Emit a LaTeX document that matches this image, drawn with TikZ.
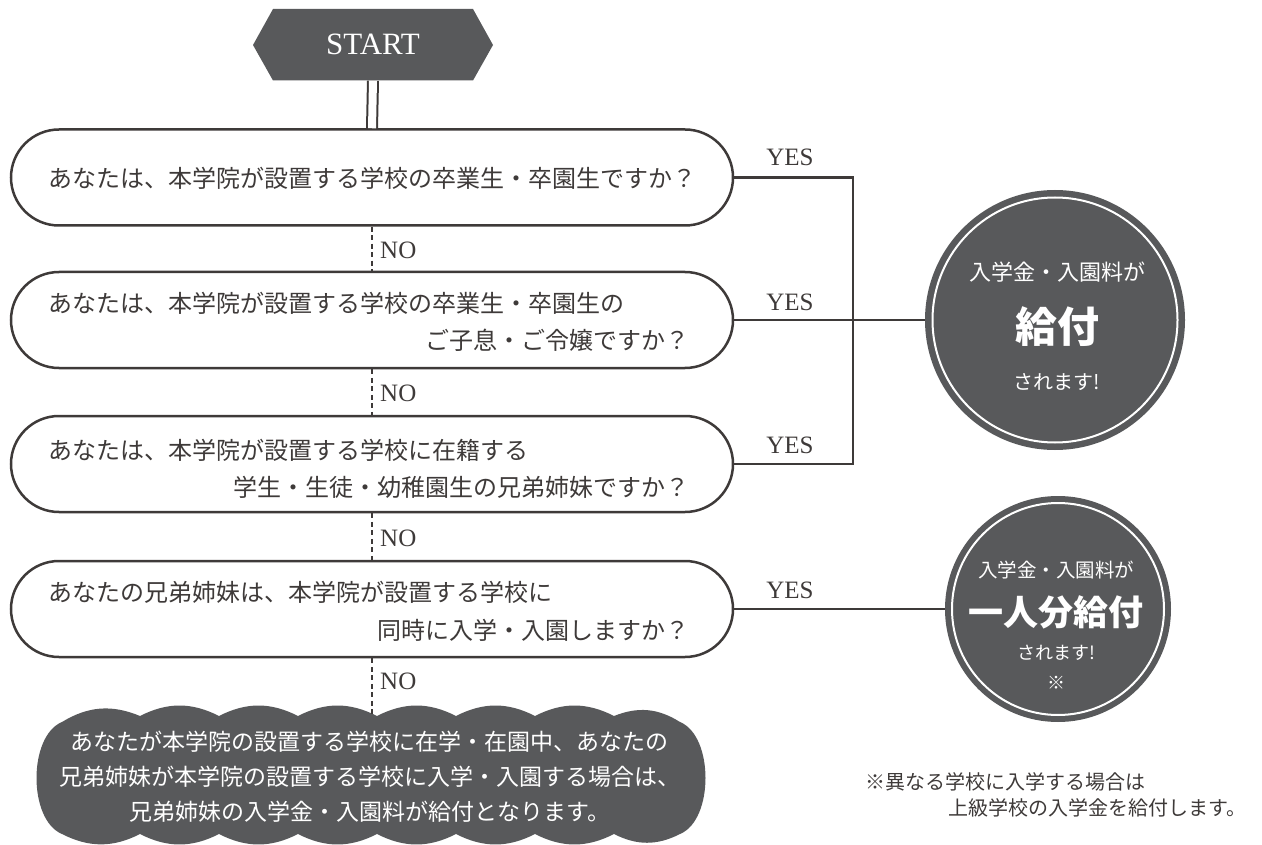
\documentclass[tikz,border=0pt]{standalone}
\usepackage{fontspec}
\setmainfont{Liberation Serif}
\newfontfamily\jp{Noto Sans CJK JP}
\usetikzlibrary{shapes.misc}
\definecolor{dk}{HTML}{58595B}
\definecolor{ln}{HTML}{3E3A39}
\begin{document}
\begin{tikzpicture}[x=1pt,y=-1pt,
  qbox/.style={rounded rectangle, draw=ln, line width=2.5pt, fill=white,
    minimum width=722pt, minimum height=96pt, inner sep=0pt},
  qtext/.style={font=\jp\fontsize{24}{28}\selectfont, text=ln, inner sep=0pt},
  lbl/.style={font=\fontsize{25}{29}\selectfont, text=ln, inner sep=0pt},
  conn/.style={draw=ln, line width=2.2pt},
  noline/.style={draw=ln, line width=2pt, dash pattern=on 5pt off 3.5pt},
  bigc/.style={circle, fill=dk, inner sep=0pt},
  wtext/.style={text=white, inner sep=0pt, align=center},
  notetext/.style={font=\jp\fontsize{20}{24}\selectfont, text=ln, inner sep=0pt}
]
\useasboundingbox (0,0) rectangle (1262,845);

% START hexagon
\fill[dk] (273,9) -- (473,9) -- (493,45) -- (473,80.5) -- (273,80.5) -- (253,45) -- cycle;
\node[minimum width=200pt, minimum height=71.5pt, inner sep=0pt, text=white,
  font=\fontsize{31}{35}\selectfont] (start) at (373,44.75) {START};

% question boxes
\node[qbox] (b1) at (372,177.5) {};
\node[qbox] (b2) at (372,320) {};
\node[qbox] (b3) at (372,464) {};
\node[qbox] (b4) at (372,609) {};

\draw[ln, line width=2pt, double=white, double distance=8pt] (start.south) -- (b1.north);

\node[qtext, anchor=west] (t1) at (48,178) {あなたは、本学院が設置する学校の卒業生・卒園生ですか？};
\node[qtext, anchor=west] (t2a) at (48,303) {あなたは、本学院が設置する学校の卒業生・卒園生の};
\node[qtext, anchor=east] (t2b) at (690,340) {ご子息・ご令嬢ですか？};
\node[qtext, anchor=west] (t3a) at (48,450) {あなたは、本学院が設置する学校に在籍する};
\node[qtext, anchor=east] (t3b) at (690,487) {学生・生徒・幼稚園生の兄弟姉妹ですか？};
\node[qtext, anchor=west] (t4a) at (48,592) {あなたの兄弟姉妹は、本学院が設置する学校に};
\node[qtext, anchor=east] (t4b) at (690,630) {同時に入学・入園しますか？};

% cloud
\fill[dk] (62,722) to[bend left=27] (140,716) to[bend left=27] (219,716)
  to[bend left=27] (298,716) to[bend left=27] (377,716) to[bend left=27] (456,716)
  to[bend left=27] (535,716) to[bend left=27] (614,716) to[bend left=27] (680,722)
  .. controls (714,736) and (714,820) .. (680,834)
  to[bend left=27] (614,834) to[bend left=27] (535,834) to[bend left=27] (456,834)
  to[bend left=27] (377,834) to[bend left=27] (298,834) to[bend left=27] (219,834)
  to[bend left=27] (140,834) to[bend left=27] (62,834)
  .. controls (28,820) and (28,736) .. (62,722) -- cycle;
\coordinate (cloudtop) at (372,716);
\node[wtext, font=\jp\fontsize{23}{35}\selectfont] (cloudtxt) at (370,777)
  {あなたが本学院の設置する学校に在学・在園中、あなたの\\
   兄弟姉妹が本学院の設置する学校に入学・入園する場合は、\\
   兄弟姉妹の入学金・入園料が給付となります。};

% NO connectors
\draw[noline] (b1.south) -- (b2.north);
\draw[noline] (b2.south) -- (b3.north);
\draw[noline] (b3.south) -- (b4.north);
\draw[noline] (b4.south) -- (cloudtop);
\node[lbl, anchor=west] (no1) at (380,250) {NO};
\node[lbl, anchor=west] (no2) at (380,393) {NO};
\node[lbl, anchor=west] (no3) at (380,538) {NO};
\node[lbl, anchor=west] (no4) at (380,681) {NO};

% result circles
\node[bigc, minimum size=260pt] (c1) at (1055,320) {};
\draw[white, line width=2pt] (c1.center) circle[radius=122.5];
\node[bigc, minimum size=226pt] (c2) at (1058,609) {};
\draw[white, line width=2pt] (c2.center) circle[radius=106];

\node[wtext, font=\jp\fontsize{22}{26}\selectfont] (c1a) at (1057,272) {入学金・入園料が};
\node[wtext, font=\jp\bfseries\fontsize{42}{46}\selectfont] (c1b) at (1057,327) {給付};
\node[wtext, font=\jp\fontsize{20}{24}\selectfont] (c1c) at (1057,382) {されます!};

\node[wtext, font=\jp\fontsize{19.5}{24}\selectfont] (c2a) at (1056,570) {入学金・入園料が};
\node[wtext, font=\jp\bfseries\fontsize{35}{40}\selectfont] (c2b) at (1056,612) {一人分給付};
\node[wtext, font=\jp\fontsize{18}{22}\selectfont] (c2c) at (1056,653) {されます!};
\node[wtext, font=\jp\fontsize{18}{22}\selectfont] (c2d) at (1056,683) {※};

% YES connectors
\coordinate (jt) at (853,177.5);
\coordinate (jb) at (853,464);
\draw[conn] (b1.east) -- (jt) -- (jb) -- (b3.east);
\draw[conn] (b2.east) -- (c1);
\draw[conn] (b4.east) -- (c2);
\node[lbl] (y1) at (790,157) {YES};
\node[lbl] (y2) at (790,302) {YES};
\node[lbl] (y3) at (790,445) {YES};
\node[lbl] (y4) at (790,590) {YES};

% note
\node[notetext, anchor=west] (n1) at (865,782) {※異なる学校に入学する場合は};
\node[notetext, anchor=east] (n2) at (1247,808) {上級学校の入学金を給付します。};
\end{tikzpicture}
\end{document}
